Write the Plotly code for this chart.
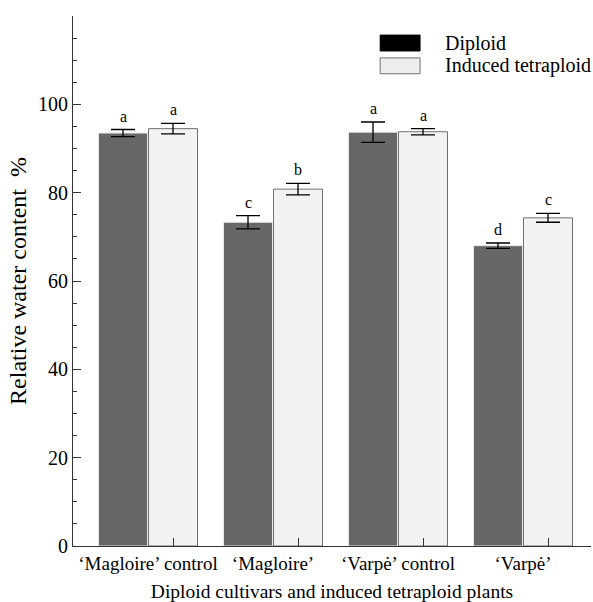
import plotly.graph_objects as go

categories = ["‘Magloire’ control", "‘Magloire’", "‘Varpė’ control", "‘Varpė’"]
diploid = [93.5, 73.3, 93.7, 68.0]
diploid_err = [0.8, 1.5, 2.3, 0.6]
tetraploid = [94.5, 80.8, 93.8, 74.3]
tetraploid_err = [1.2, 1.3, 0.7, 1.0]
diploid_letters = ["a", "c", "a", "d"]
tetraploid_letters = ["a", "b", "a", "c"]
y_ticks = [0, 20, 40, 60, 80, 100]
legend_names = ["Diploid", "Induced tetraploid"]

FONT = "Liberation Serif, Times New Roman, serif"
xs = list(range(len(categories)))

fig = go.Figure()
fig.add_trace(go.Bar(
    x=xs, y=diploid, name="Diploid", showlegend=False, offsetgroup="d",
    marker=dict(color="#676767", line=dict(color="#e8e8e8", width=1)),
    error_y=dict(type="data", array=diploid_err, color="black", thickness=1.3, width=12),
))
fig.add_trace(go.Bar(
    x=xs, y=tetraploid, name="Induced tetraploid", showlegend=False, offsetgroup="t",
    marker=dict(color="#f2f2f2", line=dict(color="#707070", width=1),
                pattern=dict(shape="+", fgcolor="#d9d9d9", bgcolor="#f4f4f4", size=4, solidity=0.15)),
    error_y=dict(type="data", array=tetraploid_err, color="black", thickness=1.3, width=12),
))

for i in xs:
    fig.add_annotation(x=i - 0.2, y=diploid[i] + diploid_err[i], text=diploid_letters[i],
                       showarrow=False, yanchor="bottom", yshift=3,
                       font=dict(family=FONT, size=16, color="black"))
    fig.add_annotation(x=i + 0.2, y=tetraploid[i] + tetraploid_err[i], text=tetraploid_letters[i],
                       showarrow=False, yanchor="bottom", yshift=3,
                       font=dict(family=FONT, size=16, color="black"))

# manual legend (swatches + labels)
fig.add_shape(type="rect", xref="paper", yref="paper", x0=0.593, x1=0.670, y0=0.934, y1=0.964,
              fillcolor="black", line=dict(color="black", width=1))
fig.add_shape(type="rect", xref="paper", yref="paper", x0=0.593, x1=0.670, y0=0.891, y1=0.921,
              fillcolor="#eeeeee", line=dict(color="#707070", width=1))
fig.add_annotation(xref="paper", yref="paper", x=0.714, y=0.949, text=legend_names[0],
                   showarrow=False, xanchor="left", yanchor="middle",
                   font=dict(family=FONT, size=20, color="black"))
fig.add_annotation(xref="paper", yref="paper", x=0.714, y=0.906, text=legend_names[1],
                   showarrow=False, xanchor="left", yanchor="middle",
                   font=dict(family=FONT, size=20, color="black"))

xr = [-0.6, 3.544]
fig.update_layout(
    width=593, height=602,
    margin=dict(l=73, r=2, t=16, b=56),
    paper_bgcolor="white", plot_bgcolor="white",
    barmode="group", bargap=0.2, bargroupgap=0.02,
    font=dict(family=FONT, color="black"),
    showlegend=False,
    xaxis=dict(range=xr, tickmode="array", tickvals=xs, ticktext=categories,
               ticks="", showline=True, linecolor="#333", linewidth=1.2,
               tickfont=dict(family=FONT, size=19, color="black"),
               minor=dict(tick0=0.2, dtick=1, ticks="inside", ticklen=8, tickcolor="#333"),
               showgrid=False, zeroline=False,
               title=dict(text="Diploid cultivars and induced tetraploid plants",
                          font=dict(family=FONT, size=19.5, color="black"), standoff=12)),
    xaxis2=dict(range=xr, overlaying="x", side="top", anchor="y",
                tickmode="array", tickvals=[0.2, 1.0, 1.8, 2.6, 3.4], showticklabels=False,
                ticks="inside", ticklen=8, tickcolor="#333",
                minor=dict(tick0=-0.4, dtick=0.2, ticks="inside", ticklen=4, tickcolor="#333"),
                showline=True, linecolor="#333", linewidth=1.2, showgrid=False, zeroline=False),
    yaxis=dict(range=[0, 120], tickmode="array", tickvals=y_ticks,
               ticks="inside", ticklen=8, tickcolor="#333",
               minor=dict(tick0=0, dtick=5, ticks="inside", ticklen=4, tickcolor="#333"),
               showline=True, linecolor="#333", linewidth=1.2, showgrid=False, zeroline=False,
               tickfont=dict(family=FONT, size=20, color="black"),
               title=dict(text="Relative water content  %",
                          font=dict(family=FONT, size=24, color="black"), standoff=4)),
    yaxis2=dict(range=[0, 120], overlaying="y", side="right", anchor="x",
                tickmode="array", tickvals=y_ticks, showticklabels=False,
                ticks="inside", ticklen=8, tickcolor="#333",
                showline=True, linecolor="#333", linewidth=1.2, showgrid=False, zeroline=False),
)
fig.write_html("out.html", config={"displayModeBar": False},
               post_script="document.body.style.margin='0';document.body.style.overflow='hidden';")
